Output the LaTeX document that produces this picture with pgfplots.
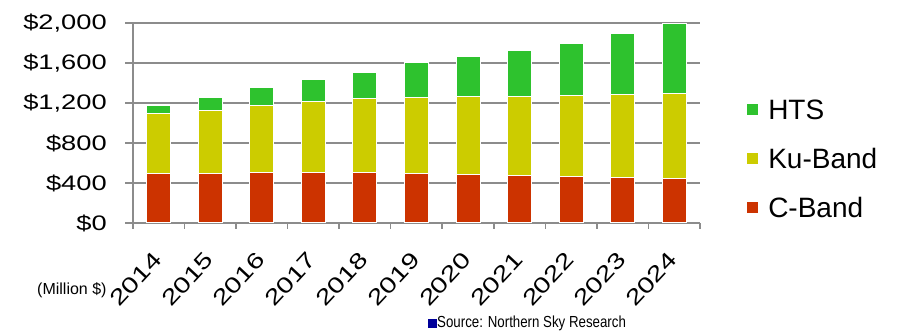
\documentclass[border=0pt]{standalone}
\usepackage{pgfplots}
\usepackage{pgfplotstable}
\pgfplotsset{compat=1.18}
\usepackage{fontspec}
\setmainfont{Liberation Sans}
\newfontfamily\tickfont[FakeStretch=1.3]{Liberation Sans}
\newfontfamily\notefont[FakeStretch=0.83]{Liberation Sans}

\definecolor{cband}{RGB}{204,51,0}
\definecolor{kuband}{RGB}{204,204,0}
\definecolor{hts}{RGB}{46,194,46}
\definecolor{gridgray}{RGB}{140,140,140}
\definecolor{srcblue}{RGB}{0,0,153}

% Revenue by band, million US$
\pgfplotstableread{
year cband kuband hts
2014 495 600  75
2015 498 629 126
2016 505 668 177
2017 505 708 220
2018 505 738 257
2019 497 756 347
2020 487 773 407
2021 472 791 457
2022 462 811 517
2023 452 831 610
2024 442 851 700
}\market

\begin{document}
\begin{tikzpicture}[x=1pt,y=1pt]
\useasboundingbox (0,0) rectangle (899,331);
\begin{axis}[
  at={(133pt,108pt)}, anchor=south west,
  scale only axis, width=567pt, height=200pt,
  ybar stacked, bar width=0.466,
  xmin=2013.5, xmax=2024.5, ymin=0, ymax=2000,
  axis x line*=bottom, axis y line*=left,
  axis line style={color=gridgray, line width=2pt},
  tick align=outside,
  xtick={2014,...,2024},
  xticklabels={2014,2015,2016,2017,2018,2019,2020,2021,2022,2023,2024},
  minor xtick={2013.5,2014.5,...,2024.5},
  major x tick style={draw=none},
  minor x tick style={color=gridgray, line width=1.5pt},
  minor tick length=6pt,
  ytick={0,400,...,2000},
  yticklabels={\$0,\$400,\$800,{\$1,200},{\$1,600},{\$2,000}},
  major tick length=8pt,
  ytick style={color=gridgray, line width=1.5pt},
  ymajorgrids,
  major grid style={color=gridgray, line width=1.5pt},
  yticklabel style={font=\tickfont\fontsize{21}{21}\selectfont, inner sep=0pt, anchor=east, xshift=-18pt},
  xticklabel style={font=\tickfont\fontsize{22}{22}\selectfont, inner sep=0pt, xshift=-1pt, yshift=-25pt, rotate=47, anchor=east},
  legend style={at={(1.083,0.62)}, anchor=north west, draw=none, fill=none,
    font=\fontsize{28}{28}\selectfont, row sep=29pt, inner sep=0pt,
    nodes={inner sep=0pt, text height=20pt, text depth=0pt}},
  legend cell align=left,
  reverse legend,
  legend image code/.code={\fill[#1, draw=none] (0pt,-5.5pt) rectangle (11pt,5.5pt);},
  /tikz/every odd column/.append style={column sep=10pt},
]
\addplot[fill=cband, draw=white, line width=1pt] table[x=year, y=cband] {\market};
\addplot[fill=kuband, draw=white, line width=1pt] table[x=year, y=kuband] {\market};
\addplot[fill=hts, draw=white, line width=1pt] table[x=year, y=hts] {\market};
\legend{C-Band,Ku-Band,HTS}
\end{axis}
\node[anchor=base west, inner sep=0pt, font=\fontsize{16}{16}\selectfont] at (37,36) {(Million \$)};
\node[anchor=base west, inner sep=0pt, font=\notefont\fontsize{16}{16}\selectfont] at (428,3)
  {\textcolor{srcblue}{\rule{9pt}{9pt}}Source: Northern Sky Research};
\end{tikzpicture}
\end{document}
